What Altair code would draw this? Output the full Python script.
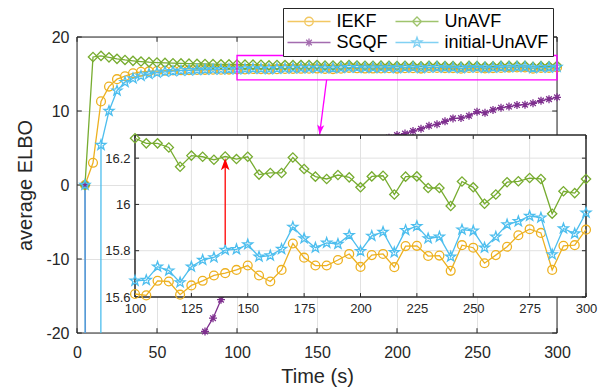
import math
import altair as alt
import pandas as pd

# ---------------- data ----------------
SERIES = ["IEKF", "UnAVF", "SGQF", "initial-UnAVF"]
COLORS = ["#EDB120", "#77AC30", "#7E2F8E", "#4DBEEE"]
DRAW_ORDER = ["IEKF", "SGQF", "UnAVF", "initial-UnAVF"]
LEGEND_ORDER = ["IEKF", "SGQF", "UnAVF", "initial-UnAVF"]

T_EARLY = list(range(5, 100, 5))      # 5 ... 95
T_LATE = list(range(100, 305, 5))     # 100 ... 300

IEKF_EARLY = [0, 3.0, 11.3, 13.3, 14.3, 14.7, 15.1, 15.3, 15.35, 15.4, 15.44, 15.47,
              15.5, 15.52, 15.54, 15.56, 15.57, 15.59, 15.6]
UNAVF_EARLY = [0, 17.3, 17.45, 17.25, 17.05, 16.9, 16.78, 16.68, 16.6, 16.55, 16.5,
               16.46, 16.43, 16.4, 16.37, 16.35, 16.33, 16.31, 16.3]
SGQF_EARLY = [0, -400, -250, -170, -125, -95, -75, -60, -49, -41, -35, -30, -26.5,
              -24, -21.8, -19.8, -18.0, -15.5, -13.0]
INIT_EARLY = [0, -1500, 5.4, 10.0, 12.75, 13.9, 14.4, 14.75, 15.0, 15.18, 15.3, 15.38,
              15.45, 15.5, 15.54, 15.58, 15.61, 15.63, 15.65]

IEKF_LATE = [15.613, 15.607, 15.67, 15.667, 15.61, 15.65, 15.67, 15.693, 15.703, 15.717,
             15.736, 15.693, 15.667, 15.717, 15.831, 15.77, 15.736, 15.736, 15.76, 15.786,
             15.73, 15.781, 15.786, 15.729, 15.82, 15.821, 15.777, 15.779, 15.713, 15.824,
             15.813, 15.746, 15.781, 15.817, 15.867, 15.893, 15.877, 15.717, 15.821, 15.824,
             15.891]
UNAVF_LATE = [16.286, 16.264, 16.264, 16.246, 16.163, 16.211, 16.206, 16.193, 16.207, 16.196,
              16.206, 16.129, 16.136, 16.136, 16.203, 16.153, 16.12, 16.11, 16.127, 16.117,
              16.074, 16.121, 16.124, 16.043, 16.12, 16.121, 16.071, 16.071, 15.993, 16.099,
              16.074, 16.003, 16.043, 16.096, 16.1, 16.114, 16.11, 15.96, 16.057, 16.049,
              16.11]
SGQF_LATE = [-10.8, -8.8, -7.0, -5.4, -4.0, -2.7, -1.6, -0.6, 0.3, 1.1, 1.9, 2.6, 3.2, 3.8,
             4.3, 4.8, 5.3, 5.7, 6.1, 6.4, 6.75, 6.95, 7.3, 7.6, 8.0, 8.2, 8.6, 9.0, 9.05,
             9.35, 9.9, 9.75, 10.15, 10.45, 10.6, 10.8, 10.85, 11.05, 11.4, 11.6, 11.85]
INIT_LATE = [15.67, 15.673, 15.731, 15.714, 15.663, 15.731, 15.76, 15.771, 15.803, 15.806,
             15.827, 15.774, 15.779, 15.807, 15.903, 15.853, 15.813, 15.834, 15.829, 15.867,
             15.798, 15.864, 15.881, 15.793, 15.889, 15.906, 15.853, 15.86, 15.774, 15.891,
             15.886, 15.813, 15.86, 15.913, 15.927, 15.95, 15.943, 15.784, 15.896, 15.874,
             15.964]

X_TICKS = [0, 50, 100, 150, 200, 250, 300]
Y_TICKS = [-20, -10, 0, 10, 20]
MAIN_X_DOMAIN = [0, 300]
MAIN_Y_DOMAIN = [-20, 20]
INSET_X_TICKS = [100, 125, 150, 175, 200, 225, 250, 275, 300]
INSET_Y_TICKS = [15.6, 15.8, 16.0, 16.2]
INSET_X_DOMAIN = [100, 300]
INSET_Y_DOMAIN = [15.6, 16.3]
ZOOM_BOX = {"t": [100], "t2": [300], "v": [14.2], "v2": [17.5]}
MAGENTA_ARROW = {"t": [156.0], "t2": [151.6], "v": [14.2], "v2": [6.8]}
RED_ARROW = {"t": [140], "v": [15.826], "v2": [16.19]}

# ---------------- style ----------------
FONT = "Liberation Sans"
INK = "#262626"
GRID = "#e1e1e1"
LW = 1.3


def circle_path(cx, r):
    return f"M{cx + r},0A{r},{r} 0 1 1 {cx - r},0A{r},{r} 0 1 1 {cx + r},0Z"


def diamond_path(cx, r):
    return f"M{cx - r},0L{cx},{-r}L{cx + r},0L{cx},{r}Z"


def asterisk_path(cx, r):
    d = round(r * 0.7071, 4)
    return (f"M{cx},{-r}L{cx},{r}M{cx - r},0L{cx + r},0"
            f"M{cx - d},{-d}L{cx + d},{d}M{cx - d},{d}L{cx + d},{-d}")


def star_path(cx, r):
    pts = []
    for k in range(10):
        a = math.radians(-90 + 36 * k)
        rr = r if k % 2 == 0 else r * 0.4
        pts.append(f"{round(cx + rr * math.cos(a), 4)},{round(rr * math.sin(a), 4)}")
    return "M" + "L".join(pts) + "Z"


MARKERS = {
    "IEKF": ("circle", 78),
    "UnAVF": ("diamond", 86),
    "SGQF": (asterisk_path(0, 1), 64),
    "initial-UnAVF": (star_path(0, 1), 110),
}
LEG_LINE = "M-1.8,0L6.8,0"
LEG_MARK = {
    "IEKF": circle_path(2.5, 0.85),
    "UnAVF": diamond_path(2.5, 0.9),
    "SGQF": asterisk_path(2.5, 0.8),
    "initial-UnAVF": star_path(2.5, 1.05),
}
LEG_PATHS = [LEG_LINE + LEG_MARK[s] for s in LEGEND_ORDER]
LEG_COLORS = [COLORS[SERIES.index(s)] for s in LEGEND_ORDER]
ARROW_HEAD = "M0,0L0.5,1.4L0,1.05L-0.5,1.4Z"

# ---------------- tables ----------------
main_rows = []
for s, early, late in [("IEKF", IEKF_EARLY, IEKF_LATE), ("UnAVF", UNAVF_EARLY, UNAVF_LATE),
                       ("SGQF", SGQF_EARLY, SGQF_LATE), ("initial-UnAVF", INIT_EARLY, INIT_LATE)]:
    for t, v in zip(T_EARLY + T_LATE, early + late):
        main_rows.append({"t": t, "v": v, "series": s})
main_df = pd.DataFrame(main_rows)
inset_df = main_df[(main_df.t >= 100) & (main_df.series != "SGQF")]

# ---------------- encodings ----------------
mx = alt.X("t:Q", scale=alt.Scale(domain=MAIN_X_DOMAIN, nice=False, zero=False),
           axis=alt.Axis(values=X_TICKS, title="Time (s)", grid=True, gridColor=GRID,
                         domain=False, ticks=False, labelFontSize=16, labelPadding=11,
                         labelFont=FONT, labelColor=INK, labelFlush=False, labelOverlap=False,
                         titleFont=FONT, titleFontSize=20, titleFontWeight="normal",
                         titleColor=INK, titleY=49.5, titleBaseline="alphabetic", zindex=0,
                         orient="bottom"))
my = alt.Y("v:Q", scale=alt.Scale(domain=MAIN_Y_DOMAIN, nice=False, zero=False),
           axis=alt.Axis(values=Y_TICKS, title="average ELBO", grid=True, gridColor=GRID,
                         domain=False, ticks=False, labelFontSize=16, labelPadding=8,
                         labelFont=FONT, labelColor=INK, labelFlush=False, labelOverlap=False,
                         labelExpr="'' + datum.value",
                         titleFont=FONT, titleFontSize=20, titleFontWeight="normal",
                         titleColor=INK, titleX=-46, titleBaseline="alphabetic", zindex=0,
                         orient="left"))
ix = alt.X("t:Q", scale=alt.Scale(domain=INSET_X_DOMAIN, range=[58, 509], nice=False, zero=False),
           axis=alt.Axis(orient="bottom", offset=-36, values=INSET_X_TICKS, grid=False,
                         domain=False, ticks=False, labelFontSize=13, labelPadding=5,
                         labelFont=FONT, labelColor=INK, labelFlush=False, labelOverlap=False,
                         title=None, zindex=1))
iy = alt.Y("v:Q", scale=alt.Scale(domain=INSET_Y_DOMAIN, range=[260, 98], nice=False, zero=False),
           axis=alt.Axis(orient="left", offset=-58, values=INSET_Y_TICKS, format="~g", grid=False,
                         domain=False, ticks=False, labelFontSize=13, labelPadding=5,
                         labelFont=FONT, labelColor=INK, labelFlush=False, labelOverlap=False,
                         title=None, zindex=1))


def tick_tables(xt, yt, xd, yd, lx, ly):
    rows = []
    for t in xt:
        rows.append({"t": t, "t2": t, "v": yd[0], "v2": yd[0] + ly})
        rows.append({"t": t, "t2": t, "v": yd[1], "v2": yd[1] - ly})
    for v in yt:
        rows.append({"t": xd[0], "t2": xd[0] + lx, "v": v, "v2": v})
        rows.append({"t": xd[1], "t2": xd[1] - lx, "v": v, "v2": v})
    return pd.DataFrame(rows)


# ---------------- main layers ----------------
main_layers = []
main_layers.append(
    alt.Chart(pd.DataFrame({"t": [MAIN_X_DOMAIN[0]], "t2": [MAIN_X_DOMAIN[1]],
                            "v": [MAIN_Y_DOMAIN[0]], "v2": [MAIN_Y_DOMAIN[1]]}))
    .mark_rect(fillOpacity=0, stroke=INK, strokeWidth=1)
    .encode(x=mx, x2="t2:Q", y=my, y2="v2:Q"))
main_layers.append(
    alt.Chart(tick_tables(X_TICKS, Y_TICKS, MAIN_X_DOMAIN, MAIN_Y_DOMAIN, 3.0, 0.65))
    .mark_rule(color=INK, strokeWidth=1)
    .encode(x=mx, x2="t2:Q", y=my, y2="v2:Q"))
for s in DRAW_ORDER:
    c = COLORS[SERIES.index(s)]
    d = main_df[main_df.series == s]
    main_layers.append(alt.Chart(d).mark_line(color=c, strokeWidth=LW, clip=True).encode(x=mx, y=my))
for s in DRAW_ORDER:
    c = COLORS[SERIES.index(s)]
    d = main_df[main_df.series == s]
    shp, sz = MARKERS[s]
    main_layers.append(
        alt.Chart(d).transform_filter("datum.v >= -20 && datum.v <= 20")
        .mark_point(shape=shp, size=sz, filled=False, color=c, strokeWidth=LW, opacity=1)
        .encode(x=mx, y=my))
main_layers.append(
    alt.Chart(pd.DataFrame(ZOOM_BOX)).mark_rect(fillOpacity=0, stroke="#FF00FF", strokeWidth=1.3)
    .encode(x=mx, x2="t2:Q", y=my, y2="v2:Q"))
main_layers.append(
    alt.Chart(pd.DataFrame(MAGENTA_ARROW)).mark_rule(color="#FF00FF", strokeWidth=1.3)
    .encode(x=mx, x2="t2:Q", y=my, y2="v2:Q"))
main_layers.append(
    alt.Chart(pd.DataFrame({"t": MAGENTA_ARROW["t2"], "v": MAGENTA_ARROW["v2"]}))
    .mark_point(shape=ARROW_HEAD, filled=True, color="#FF00FF", size=200, angle=187, opacity=1)
    .encode(x=mx, y=my))

legend = alt.Legend(title=None, orient="none", legendX=206, legendY=-29, columns=2,
                    columnPadding=4, rowPadding=3, padding=4.5, symbolSize=100,
                    symbolStrokeWidth=LW, labelFontSize=18, labelFont=FONT, labelColor="#000000",
                    labelOffset=31, strokeColor=INK, fillColor="white",
                    symbolFillColor="transparent", labelLimit=300,
                    labelExpr="datum.label + '  '")
main_layers.append(
    alt.Chart(pd.DataFrame({"series": LEGEND_ORDER})).transform_filter("false")
    .mark_point(filled=False, size=100, strokeWidth=LW)
    .encode(color=alt.Color("series:N", scale=alt.Scale(domain=LEGEND_ORDER, range=LEG_COLORS),
                            sort=LEGEND_ORDER, legend=legend),
            shape=alt.Shape("series:N", scale=alt.Scale(domain=LEGEND_ORDER, range=LEG_PATHS),
                            sort=LEGEND_ORDER, legend=legend)))

# ---------------- inset layers ----------------
inset_layers = []
inset_layers.append(
    alt.Chart(pd.DataFrame({"t": [INSET_X_DOMAIN[0]], "t2": [INSET_X_DOMAIN[1]],
                            "v": [INSET_Y_DOMAIN[0]], "v2": [INSET_Y_DOMAIN[1]]}))
    .mark_rect(fill="white", stroke=INK, strokeWidth=1)
    .encode(x=ix, x2="t2:Q", y=iy, y2="v2:Q"))
grid_rows = ([{"t": t, "t2": t, "v": INSET_Y_DOMAIN[0], "v2": INSET_Y_DOMAIN[1]} for t in INSET_X_TICKS[1:-1]]
             + [{"t": INSET_X_DOMAIN[0], "t2": INSET_X_DOMAIN[1], "v": v, "v2": v} for v in INSET_Y_TICKS[1:]])
inset_layers.append(
    alt.Chart(pd.DataFrame(grid_rows)).mark_rule(color=GRID, strokeWidth=1)
    .encode(x=ix, x2="t2:Q", y=iy, y2="v2:Q"))
inset_layers.append(
    alt.Chart(tick_tables(INSET_X_TICKS, INSET_Y_TICKS, INSET_X_DOMAIN, INSET_Y_DOMAIN, 1.8, 0.017))
    .mark_rule(color=INK, strokeWidth=1)
    .encode(x=ix, x2="t2:Q", y=iy, y2="v2:Q"))
inset_layers.append(
    alt.Chart(pd.DataFrame({"t": [INSET_X_DOMAIN[0]], "t2": [INSET_X_DOMAIN[1]],
                            "v": [INSET_Y_DOMAIN[0]], "v2": [INSET_Y_DOMAIN[1]]}))
    .mark_rect(fillOpacity=0, stroke=INK, strokeWidth=1)
    .encode(x=ix, x2="t2:Q", y=iy, y2="v2:Q"))
for s in DRAW_ORDER:
    if s == "SGQF":
        continue
    c = COLORS[SERIES.index(s)]
    d = inset_df[inset_df.series == s]
    shp, sz = MARKERS[s]
    inset_layers.append(alt.Chart(d).mark_line(color=c, strokeWidth=LW).encode(x=ix, y=iy))
    inset_layers.append(
        alt.Chart(d).mark_point(shape=shp, size=sz, filled=False, color=c, strokeWidth=LW, opacity=1)
        .encode(x=ix, y=iy))
inset_layers.append(
    alt.Chart(pd.DataFrame(RED_ARROW)).mark_rule(color="#FF0000", strokeWidth=1.3)
    .encode(x=ix, y=iy, y2="v2:Q"))
inset_layers.append(
    alt.Chart(pd.DataFrame({"t": RED_ARROW["t"], "v": [16.2]}))
    .mark_point(shape=ARROW_HEAD, filled=True, color="#FF0000", size=300, angle=0, opacity=1)
    .encode(x=ix, y=iy))

chart = (
    alt.layer(alt.layer(*main_layers), alt.layer(*inset_layers))
    .resolve_scale(x="independent", y="independent")
    .properties(width=480, height=296, autosize="none",
                padding={"left": 77, "top": 37, "right": 45, "bottom": 55})
    .configure_view(stroke=None)
    .configure(background="white")
)

chart.save("out.html", embed_options={"renderer": "svg", "actions": False})
